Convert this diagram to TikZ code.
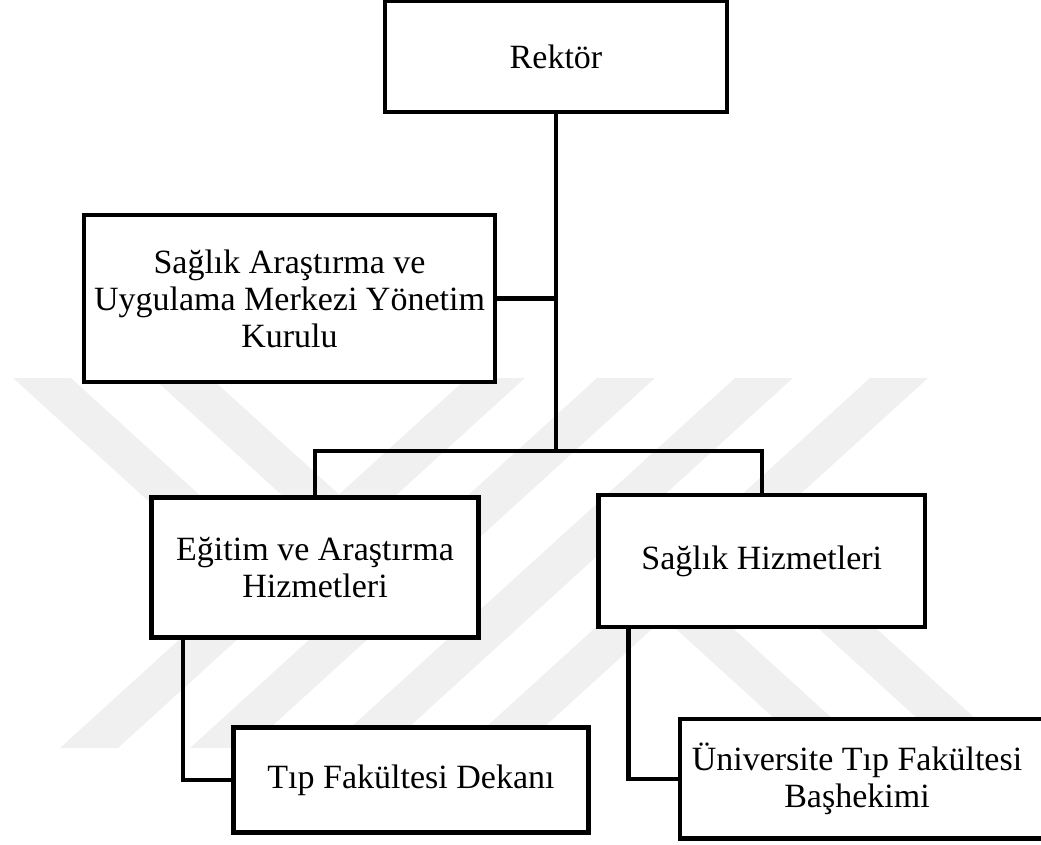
\documentclass[tikz,border=0pt]{standalone}
\usepackage{fontspec}
\setmainfont{Liberation Serif}
\begin{document}
\begin{tikzpicture}[x=1pt,y=-1pt,
  box/.style={draw,line width=4.5pt,fill=white,inner sep=0pt,align=center,
              font=\fontsize{34}{37}\selectfont},
  link/.style={line width=4.5pt},
  wmband/.style={fill=black!6}]
\useasboundingbox (0,0) rectangle (1041,845);

% faint striped emblem in the background
\fill[wmband] (467,378) -- (525,378) -- (118,748) -- (60,748) -- cycle;
\fill[wmband] (597,378) -- (655,378) -- (248,748) -- (190,748) -- cycle;
\fill[wmband] (735,378) -- (793,378) -- (386,748) -- (328,748) -- cycle;
\fill[wmband] (870,378) -- (928,378) -- (521,748) -- (463,748) -- cycle;
\fill[wmband] (13,378) -- (71,378) -- (297.6,584) -- (239.6,584) -- cycle;
\fill[wmband] (153,378) -- (211,378) -- (433.2,580) -- (375.2,580) -- cycle;
\fill[wmband] (567.4,530.4) -- (625.4,530.4) -- (864.8,748) -- (806.8,748) -- cycle;
\fill[wmband] (706.4,526.7) -- (764.4,526.7) -- (1007.8,748) -- (949.8,748) -- cycle;

% boxes
\node[box,minimum width=342pt,minimum height=111pt] (rektor) at (556,56.5) {Rektör};
\node[box,minimum width=411pt,minimum height=167pt] (sam) at (289.5,298.5)
  {Sağlık Araştırma ve\\Uygulama Merkezi Yönetim\\Kurulu};
\node[box,minimum width=327pt,minimum height=140pt] (egitim) at (315,567.5)
  {Eğitim ve Araştırma\\Hizmetleri};
\node[box,minimum width=326.5pt,minimum height=132pt] (saghiz) at (761.75,561)
  {Sağlık Hizmetleri};
\node[box,minimum width=355pt,minimum height=105pt] (tip) at (411,780)
  {Tıp Fakültesi Dekanı};
\node[box,minimum width=370pt,minimum height=119.5pt] (univ) at (865,778.75)
  {\hspace*{-16pt}Üniversite Tıp Fakültesi\\\hspace*{-16pt}Başhekimi};

% connectors
\coordinate (bus) at (556,451);
\draw[link] (rektor.south) -- (bus);
\draw[link] (sam.east) -- (sam.east -| bus);
\draw[link] (egitim.north) |- (bus) -| (saghiz.north);
\draw[link] ([xshift=33.5pt]egitim.south west) |- (tip.west);
\draw[link] ([xshift=32pt]saghiz.south west) |- (univ.west);
\end{tikzpicture}
\end{document}
